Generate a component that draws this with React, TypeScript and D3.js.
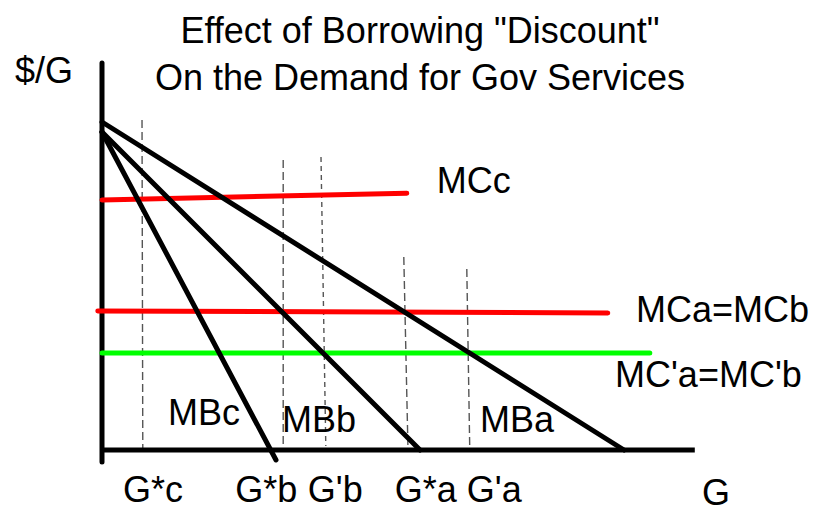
import React from "react";
import * as d3 from "d3";

// ---- Data (in chart units: G on x, $/G on y) ----
type Pt = { g: number; p: number };

const titleLines: string[] = ['Effect of Borrowing "Discount"', "On the Demand for Gov Services"];

// Marginal benefit curves
const mbA: Pt[] = [{ g: 0, p: 82 }, { g: 87, p: 0 }];
const mbB: Pt[] = [{ g: 0, p: 79.5 }, { g: 53, p: 0 }];
const mbC: Pt[] = [{ g: 0, p: 79.5 }, { g: 29, p: -2.5 }];

// Marginal cost lines
const mcC: Pt[] = [{ g: 0, p: 62.5 }, { g: 50.8, p: 64.2 }];
const mcAB: Pt[] = [{ g: -0.7, p: 34.75 }, { g: 84.3, p: 34.25 }];
const mcPrimeAB: Pt[] = [{ g: 0, p: 24.25 }, { g: 91.3, p: 24.25 }];

// Axes
const yAxisPts: Pt[] = [{ g: 0, p: 96.75 }, { g: 0, p: -3 }];
const xAxisPts: Pt[] = [{ g: -0.3, p: 0 }, { g: 98.8, p: 0 }];

// Dashed drop lines (quantities)
const dropNames: string[] = ["G*c", "G*b", "G'b", "G*a", "G'a"];
const dropTopG: number[] = [6.67, 30.2, 36.5, 50.3, 60.8];
const dropBotG: number[] = [6.8, 30.2, 37.3, 51.0, 61.3];
const dropTopP: number[] = [82.5, 72.5, 73.25, 48.25, 45.25];
const dropBotP: number[] = [-1, 0.5, 1, 0, -0.5];

// Quantity labels under the axis
const qLabelG: number[] = [3.5, 22.2, 34.3, 48.8, 60.8];
const qLabelP = -13;

// Curve labels
const curveLabels: string[] = ["MCc", "MCa=MCb", "MC'a=MC'b", "MBc", "MBb", "MBa", "G", "$/G"];
const curveLabelG: number[] = [55.8, 89.0, 85.5, 11, 30, 63, 100, -14.5];
const curveLabelP: number[] = [64.25, 32, 15.75, 6.25, 4.5, 4.5, -13.8, 91.75];

const W = 813;
const H = 509;

export default function App() {
  const x = d3.scaleLinear().domain([0, 100]).range([102, 702]);
  const y = d3.scaleLinear().domain([0, 100]).range([450, 50]);
  const line = d3
    .line<Pt>()
    .x((d) => x(d.g))
    .y((d) => y(d.p));

  const font = "'Liberation Sans', Arial, Helvetica, sans-serif";

  const drops = dropNames.map((n, i) => ({
    name: n,
    pts: [
      { g: dropTopG[i], p: dropTopP[i] },
      { g: dropBotG[i], p: dropBotP[i] },
    ] as Pt[],
  }));

  return (
    <svg
      width={W}
      height={H}
      style={{ position: "absolute", left: 0, top: 0, background: "#fff" }}
      fontFamily={font}
    >
      <rect x={0} y={0} width={W} height={H} fill="#fff" />
      {/* Title */}
      {titleLines.map((t, i) => (
        <text key={t} x={420} y={43 + i * 47} textAnchor="middle" fontSize={36} fill="#000">
          {t}
        </text>
      ))}

      {/* Dashed drop lines */}
      {drops.map((d, i) => (
        <path
          key={d.name}
          d={line(d.pts) || ""}
          stroke="#555"
          strokeWidth={1.4}
          strokeDasharray={i === 2 ? "5,4" : "8,4"}
          fill="none"
        />
      ))}

      {/* Axes */}
      <path d={line(yAxisPts) || ""} stroke="#000" strokeWidth={5} strokeLinecap="round" fill="none" />
      <path d={line(xAxisPts) || ""} stroke="#000" strokeWidth={5} fill="none" />

      {/* MC lines */}
      <path d={line(mcC) || ""} stroke="#ff0000" strokeWidth={5} strokeLinecap="round" fill="none" />
      <path d={line(mcAB) || ""} stroke="#ff0000" strokeWidth={5} strokeLinecap="round" fill="none" />
      <path d={line(mcPrimeAB) || ""} stroke="#00ff00" strokeWidth={5} strokeLinecap="round" fill="none" />

      {/* MB lines */}
      {[mbA, mbB, mbC].map((m, i) => (
        <path key={i} d={line(m) || ""} stroke="#000" strokeWidth={5} strokeLinecap="round" fill="none" />
      ))}

      {/* Quantity labels */}
      {dropNames.map((n, i) => (
        <text key={n} x={x(qLabelG[i])} y={y(qLabelP)} fontSize={36} fill="#000">
          {n}
        </text>
      ))}

      {/* Curve labels */}
      {curveLabels.map((c, i) => (
        <text key={c} x={x(curveLabelG[i])} y={y(curveLabelP[i])} fontSize={36} fill="#000">
          {c}
        </text>
      ))}
    </svg>
  );
}
